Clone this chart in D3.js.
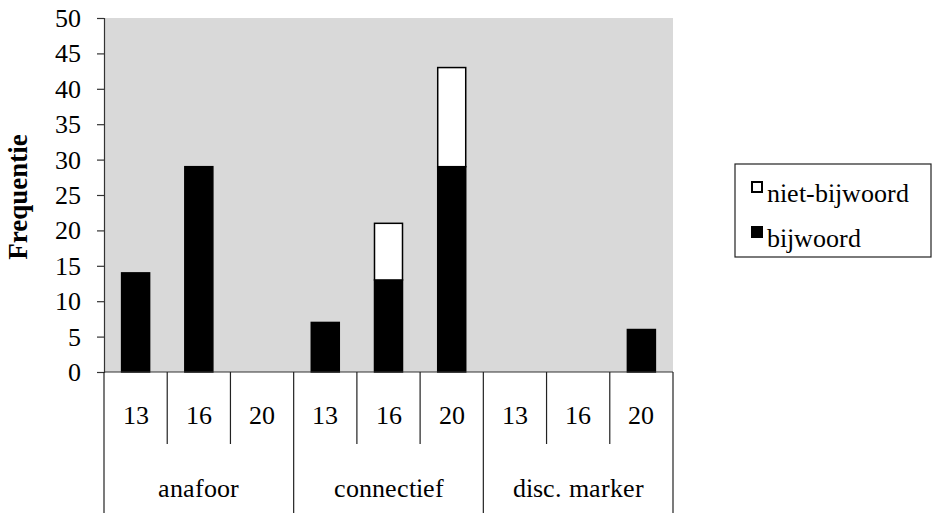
<!DOCTYPE html>
<html>
<head>
<meta charset="utf-8">
<script src="https://cdn.jsdelivr.net/npm/d3@7"></script>
<style>
  @font-face {
    font-family: "ChartSerif";
    font-weight: 400;
    src: local("Liberation Serif"), local("LiberationSerif"), local("LiberationSerif-Regular"), local("Liberation Serif Regular");
  }
  html, body { margin: 0; padding: 0; background: #fff; }
  svg { display: block; }
</style>
</head>
<body>
<svg id="chart" width="933" height="513" font-family="Liberation Serif"></svg>
<script>
// Grouped categories: each group has three sub-categories (13, 16, 20)
const groups = ["anafoor", "connectief", "disc. marker"];
const subLabels = ["13", "16", "20"];
// Stacked series, one value per (group, sub) slot, in reading order
const bijwoord     = [14, 29, 0,  7, 13, 29,  0, 0, 6];
const nietBijwoord = [ 0,  0, 0,  0,  8, 14,  0, 0, 0];
const yTicks = [0, 5, 10, 15, 20, 25, 30, 35, 40, 45, 50];
const seriesNames = ["niet-bijwoord", "bijwoord"];

const svg = d3.select("#chart");
const plot = { left: 104, right: 673, top: 18, bottom: 372 };

// labels are placed straight on the svg root with explicit font styling
function label(x, y, str, anchor, size, weight) {
  const bold = weight && weight >= 600;
  return svg.append("text")
    .attr("x", x).attr("y", y)
    .attr("text-anchor", anchor || "start")
    .attr("font-family", "Liberation Serif")
    .style("font-family", bold ? '"Liberation Serif"' : '"ChartSerif", "Liberation Serif"')
    .style("font-weight", weight || 400)
    .style("font-size", (size || 26) + "px")
    .text(str);
}

const slots = [];
groups.forEach((g, gi) => subLabels.forEach((s, si) => slots.push({ key: gi + "-" + si, group: g, sub: s })));

const x = d3.scaleBand()
  .domain(slots.map(d => d.key))
  .range([plot.left, plot.right])
  .paddingInner(0.557)
  .paddingOuter(0.2785);
const slotLeft = i => plot.left + i * (plot.right - plot.left) / slots.length;

const y = d3.scaleLinear().domain([0, 50]).range([plot.bottom, plot.top]);

// plot background
svg.append("rect")
  .attr("x", plot.left).attr("y", plot.top)
  .attr("width", plot.right - plot.left).attr("height", plot.bottom - plot.top)
  .attr("fill", "#d9d9d9");

// stacked bars
const rows = slots.map((d, i) => ({ key: d.key, bijwoord: bijwoord[i], niet: nietBijwoord[i] }));
const stack = d3.stack().keys(["bijwoord", "niet"])(rows);
const fills = { bijwoord: "#000", niet: "#fff" };
stack.forEach(layer => {
  svg.append("g").selectAll("rect")
    .data(layer.filter(d => d[1] - d[0] > 0))
    .join("rect")
    .attr("x", d => x(d.data.key))
    .attr("width", x.bandwidth())
    .attr("y", d => y(d[1]))
    .attr("height", d => y(d[0]) - y(d[1]))
    .attr("fill", fills[layer.key])
    .attr("stroke", "#000")
    .attr("stroke-width", 1.5);
});

// y axis: line and ticks from d3.axisLeft, labels drawn separately
const yAxis = d3.axisLeft(y).tickValues(yTicks).tickSize(7).tickFormat("");
const yg = svg.append("g").attr("transform", `translate(${plot.left},0)`).call(yAxis);
yg.select(".domain").attr("stroke", "#333").attr("stroke-width", 1.2);
yg.selectAll(".tick line").attr("stroke", "#333").attr("stroke-width", 1.2);
yg.selectAll(".tick text").remove();
yTicks.forEach(t => label(plot.left - 23, y(t) + 9, String(t), "end"));

// x axis baseline
svg.append("line")
  .attr("x1", plot.left).attr("x2", plot.right)
  .attr("y1", plot.bottom).attr("y2", plot.bottom)
  .attr("stroke", "#333").attr("stroke-width", 1.2);

// separators: sub-category lines (short), group lines (long)
for (let i = 0; i <= slots.length; i++) {
  const xx = slotLeft(i);
  const isGroup = i % subLabels.length === 0;
  svg.append("line")
    .attr("x1", xx).attr("x2", xx)
    .attr("y1", plot.bottom).attr("y2", isGroup ? 513 : 444)
    .attr("stroke", "#222").attr("stroke-width", 1.2);
}
// sub-category labels
slots.forEach(d => label(x(d.key) + x.bandwidth() / 2, 424, d.sub, "middle"));
// group labels
groups.forEach((g, i) => label((slotLeft(i * 3) + slotLeft(i * 3 + 3)) / 2, 497, g, "middle"));

// y axis title
label(0, 0, "Frequentie", "middle", 27, 700)
  .attr("transform", "translate(27,197) rotate(-90)");

// legend
svg.append("rect")
  .attr("x", 735).attr("y", 164).attr("width", 196).attr("height", 93)
  .attr("fill", "#fff").attr("stroke", "#222").attr("stroke-width", 1.2);
const legendFill = ["#fff", "#000"];
seriesNames.forEach((name, i) => {
  const yy = 182 + i * 45;
  svg.append("rect")
    .attr("x", 752).attr("y", yy).attr("width", 10).attr("height", 10)
    .attr("fill", legendFill[i]).attr("stroke", "#000").attr("stroke-width", 2);
  label(767, yy + 20, name);
});
</script>
</body>
</html>
